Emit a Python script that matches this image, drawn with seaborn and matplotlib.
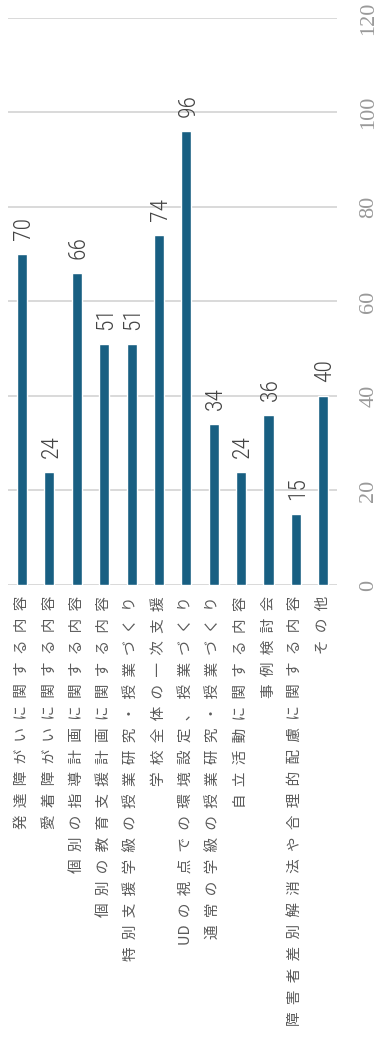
import matplotlib
matplotlib.use("Agg")
import matplotlib.pyplot as plt
import seaborn as sns
import pandas as pd

categories = [
    "発達障がいに関する内容",
    "愛着障がいに関する内容",
    "個別の指導計画に関する内容",
    "個別の教育支援計画に関する内容",
    "特別支援学級の授業研究・授業づくり",
    "学校全体の一次支援",
    "UDの視点での環境設定、授業づくり",
    "通常の学級の授業研究・授業づくり",
    "自立活動に関する内容",
    "事例検討会",
    "障害者差別解消法や合理的配慮に関する内容",
    "その他",
]
values = [70, 24, 66, 51, 51, 74, 96, 34, 24, 36, 15, 40]
yticks = [0, 20, 40, 60, 80, 100, 120]

sns.set_theme(style="white")
plt.rcParams['font.family'] = ['Noto Sans CJK JP', 'DejaVu Sans']

df = pd.DataFrame({"cat": categories, "val": values})

fig = plt.figure(figsize=(3.77, 10.45), dpi=100)
ax = fig.add_axes([0.022, 0.4402, 0.872, 0.5426])

sns.barplot(data=df, x="cat", y="val", color="#185f82", width=0.37,
            saturation=1, ax=ax, zorder=3)

ax.set_ylim(0, 120)
ax.set_xlim(-0.5, len(categories) - 0.5)
ax.set_yticks(yticks)
ax.yaxis.tick_right()
ax.grid(axis="y", color="#d9d9d9", linewidth=1.4, zorder=0)
ax.grid(axis="x", visible=False)
for s in ax.spines.values():
    s.set_visible(False)
ax.set_xlabel("")
ax.set_ylabel("")
ax.tick_params(axis="y", length=0, pad=16, labelsize=16, labelcolor="#999999")
for t in ax.get_yticklabels():
    t.set_rotation(90)
    t.set_va("center")
    t.set_family(["Liberation Serif", "DejaVu Serif"])


def spaced(text):
    out = ""
    for i, ch in enumerate(text):
        if i > 0:
            prev = text[i - 1]
            if not (prev.isascii() and ch.isascii()):
                out += "\u2002"
        out += ch
    return out


ax.set_xticks(range(len(categories)))
ax.set_xticklabels([spaced(c) for c in categories])
ax.tick_params(axis="x", length=0, pad=8, labelsize=10.5, labelcolor="#5a5a5a")
for t in ax.get_xticklabels():
    t.set_rotation(90)
    t.set_ha("center")
    t.set_va("top")

for i, v in enumerate(values):
    ax.annotate(str(v), (i, v), xytext=(1, 10), textcoords="offset points",
                rotation=90, ha="center", va="bottom", fontsize=17,
                color="#444444", fontweight="light",
                family=["Roboto Condensed", "Liberation Sans Narrow", "Roboto", "DejaVu Sans"],
                zorder=4)

fig.savefig("out.png", dpi=100)
